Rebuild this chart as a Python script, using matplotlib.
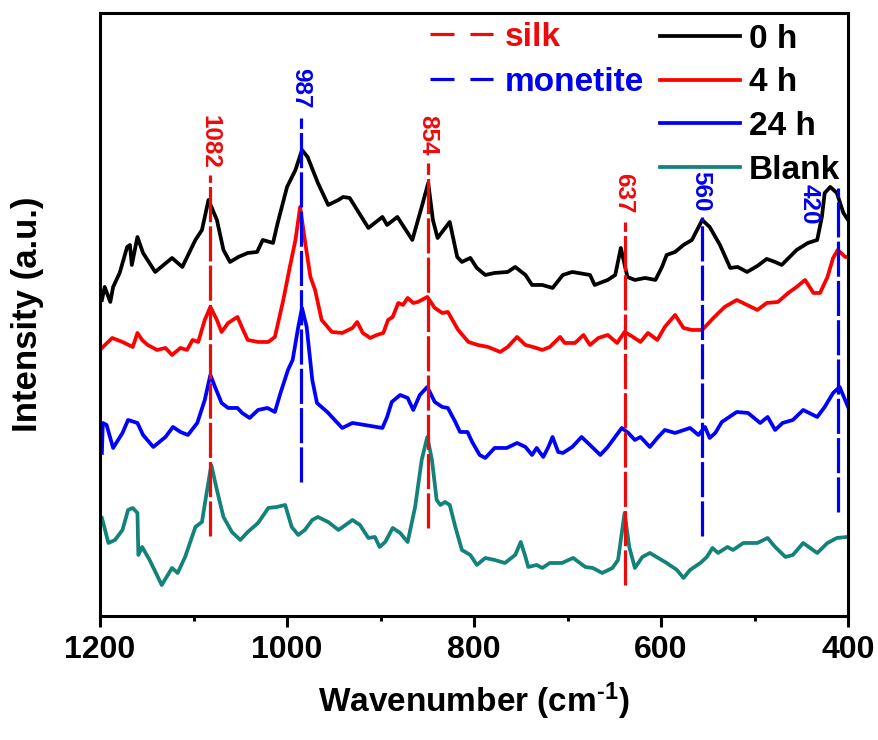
import matplotlib
matplotlib.use("Agg")
import matplotlib.pyplot as plt
from matplotlib.lines import Line2D

plt.rcParams['font.family'] = ['Liberation Sans', 'DejaVu Sans']
plt.rcParams['font.weight'] = 'bold'
plt.rcParams['mathtext.fontset'] = 'custom'
plt.rcParams['mathtext.rm'] = 'Liberation Sans:bold'
plt.rcParams['mathtext.bf'] = 'Liberation Sans:bold'
plt.rcParams['mathtext.default'] = 'bf'

# Raman spectra (wavenumber in cm-1, intensity in a.u., already offset)
wn_0h = [1198, 1195, 1189, 1186, 1179, 1171, 1168, 1166, 1160, 1154, 1141, 1123, 1112, 1098,
         1091, 1084, 1075, 1068, 1061, 1052, 1042, 1032, 1026, 1015, 1010, 1000, 991, 984,
         978, 967, 956, 945, 940, 933, 913, 898, 893, 882, 866, 856, 849, 844, 839, 826,
         818, 813, 804, 797, 788, 778, 764, 756, 745, 738, 727, 716, 705, 695, 676, 671,
         657, 649, 643, 636, 628, 617, 606, 599, 594, 585, 576, 567, 556, 548, 537, 526,
         518, 508, 497, 487, 478, 471, 455, 443, 433, 428, 425, 419, 412, 405, 400]
int_0h = [316, 329, 314, 329, 343, 369, 371, 351, 379, 363, 344, 358, 349, 376,
          386, 416, 396, 366, 354, 359, 363, 364, 376, 373, 393, 429, 446, 466,
          459, 433, 411, 416, 419, 418, 388, 399, 391, 399, 376, 409, 433, 396, 378, 394,
          359, 354, 358, 348, 341, 343, 344, 349, 341, 331, 331, 328, 341, 344, 341, 331,
          336, 341, 368, 339, 336, 338, 336, 349, 361, 364, 371, 376, 396, 389, 371, 348,
          349, 344, 350, 357, 354, 351, 366, 373, 376, 399, 423, 429, 423, 403, 396]

wn_4h = [1198, 1187, 1176, 1165, 1160, 1155, 1149, 1139, 1130, 1123, 1114, 1107, 1101, 1095,
         1088, 1082, 1075, 1070, 1063, 1053, 1047, 1042, 1031, 1020, 1013, 1004, 997, 991,
         986, 981, 975, 970, 963, 952, 941, 930, 925, 919, 911, 904, 897, 892, 887, 881,
         876, 871, 865, 860, 850, 842, 834, 828, 817, 806, 796, 785, 772, 764, 754, 745,
         737, 727, 719, 708, 703, 692, 683, 676, 667, 657, 647, 639, 630, 622, 614, 604,
         596, 585, 576, 567, 556, 544, 532, 519, 508, 497, 487, 475, 464, 455, 446, 437,
         430, 422, 416, 411, 403, 400]
int_4h = [268, 278, 274, 269, 283, 276, 271, 266, 268, 261, 268, 266, 276, 274,
          296, 309, 296, 284, 293, 299, 286, 276, 274, 274, 279, 316, 349, 376,
          409, 376, 339, 326, 296, 284, 283, 288, 294, 283, 278, 281, 283, 296, 299, 313,
          311, 318, 313, 314, 319, 308, 303, 304, 286, 274, 271, 269, 264, 269, 279, 271,
          269, 266, 269, 279, 273, 273, 281, 271, 278, 281, 273, 284, 279, 274, 283, 276,
          289, 301, 288, 286, 286, 298, 309, 316, 311, 306, 313, 314, 323, 329, 336, 323,
          323, 339, 358, 366, 359, 359]

wn_24h = [1198, 1197, 1193, 1186, 1176, 1170, 1160, 1154, 1143, 1130, 1122, 1114, 1106, 1096,
          1088, 1082, 1077, 1070, 1063, 1053, 1048, 1040, 1031, 1021, 1013, 1007, 999, 994,
          988, 984, 979, 973, 968, 957, 949, 941, 930, 917, 898, 893, 888, 879, 871, 865,
          858, 850, 842, 834, 828, 820, 815, 807, 802, 794, 788, 778, 765, 754, 745, 738,
          733, 726, 721, 716, 710, 705, 695, 685, 676, 665, 657, 642, 635, 628, 622, 612,
          604, 596, 585, 569, 560, 553, 548, 542, 535, 519, 507, 494, 486, 478, 470, 459,
          448, 433, 425, 416, 409, 400]
int_24h = [163, 193, 191, 168, 183, 196, 193, 181, 169, 179, 189, 184, 181, 193,
           216, 241, 229, 213, 208, 208, 203, 198, 206, 208, 204, 223, 246, 256,
           289, 308, 289, 236, 213, 204, 196, 188, 193, 191, 188, 199, 214, 221, 218, 206,
           221, 229, 214, 209, 208, 194, 184, 184, 174, 161, 158, 168, 168, 173, 169, 161,
           168, 159, 168, 179, 164, 163, 169, 179, 171, 161, 169, 188, 183, 176, 179, 169,
           178, 186, 183, 188, 181, 189, 178, 183, 194, 204, 203, 193, 199, 186, 193, 196,
           206, 199, 209, 223, 229, 209]

wn_blank = [1198, 1191, 1184, 1176, 1170, 1165, 1160, 1159, 1155, 1147, 1134, 1123, 1117, 1109,
            1098, 1091, 1086, 1081, 1075, 1068, 1059, 1050, 1042, 1031, 1020, 1011, 1002, 995,
            988, 981, 973, 967, 956, 945, 930, 922, 913, 906, 901, 895, 887, 879, 871, 863,
            856, 850, 845, 840, 836, 831, 826, 820, 813, 804, 797, 788, 778, 767, 756, 750,
            745, 742, 733, 727, 719, 706, 694, 681, 673, 663, 652, 646, 642, 639, 634, 628,
            620, 612, 603, 594, 583, 576, 569, 558, 551, 545, 539, 529, 523, 512, 497, 486,
            478, 467, 459, 448, 433, 422, 412, 401]
int_blank = [98, 73, 76, 86, 106, 108, 103, 61, 69, 56, 31, 48, 43, 59,
             89, 94, 123, 151, 126, 99, 84, 76, 84, 93, 108, 109, 111, 89,
             81, 86, 96, 99, 94, 86, 96, 91, 78, 79, 69, 74, 88, 83, 74, 109,
             156, 179, 156, 116, 111, 114, 111, 89, 66, 61, 51, 58, 56, 53, 61, 74,
             59, 49, 51, 48, 53, 53, 58, 49, 48, 43, 48, 56, 83, 103, 69, 48,
             59, 63, 58, 53, 46, 38, 46, 53, 59, 68, 63, 69, 66, 73, 73, 78,
             69, 59, 61, 73, 63, 73, 78, 79]

series = [
    ('0 h', wn_0h, int_0h, '#000000'),
    ('4 h', wn_4h, int_4h, '#ff0000'),
    ('24 h', wn_24h, int_24h, '#0000ff'),
    ('Blank', wn_blank, int_blank, '#12827a'),
]

# assigned bands (vertical dashed markers)
peak_pos = [1082, 985, 849, 639, 556, 411]
peak_text = ['1082', '987', '854', '637', '560', '420']
peak_kind = ['silk', 'monetite', 'silk', 'silk', 'monetite', 'monetite']
peak_lo = [80, 134, 88, 31, 80, 104]
peak_hi = [441, 498, 453, 394, 399, 428]
label_x = [1082, 985, 849, 640, 557, 442]
label_y = [474, 528, 481, 423, 425, 412]
kind_color = {'silk': '#ee0a0a', 'monetite': '#0000f0'}

fig = plt.figure(figsize=(8.79, 7.40), dpi=100)
ax = fig.add_axes([0.1138, 0.1676, 0.851, 0.8149])

for name, wn, inten, col in series:
    ax.plot(wn, inten, color=col, linewidth=2.7, label=name, zorder=2,
            solid_joinstyle='round')

for x, lo, hi, kind in zip(peak_pos, peak_lo, peak_hi, peak_kind):
    ax.plot([x, x], [lo, hi], color=kind_color[kind], linewidth=2.3,
            linestyle=(0, (11, 1.3)), zorder=3)

for tx, ty, txt, kind in zip(label_x, label_y, peak_text, peak_kind):
    ax.text(tx, ty, txt, rotation=270, ha='center', va='center',
            fontsize=17.5, fontweight='bold', color=kind_color[kind], zorder=4)

ax.set_xlim(1200, 400)
ax.set_ylim(0, 603)
ax.set_xticks([1200, 1000, 800, 600, 400])
ax.set_xticks([1100, 900, 700, 500], minor=True)
ax.set_yticks([])
ax.tick_params(axis='x', which='major', length=8, width=2.2, pad=6,
               labelsize=23, direction='out')
ax.tick_params(axis='x', which='minor', length=3.5, width=2.2, direction='out')
for lab in ax.get_xticklabels():
    lab.set_fontweight('bold')
for spine in ax.spines.values():
    spine.set_linewidth(2.2)

ax.set_xlabel(r'Wavenumber (cm$^{\text{-}1}$)', fontsize=24, fontweight='bold', labelpad=11)
ax.set_ylabel('Intensity (a.u.)', fontsize=25, fontweight='bold', labelpad=40)

# legend for the spectra
leg1 = ax.legend(loc='upper left', bbox_to_anchor=(0.749, 0.982), frameon=False,
                 fontsize=24, handlelength=2.4, handletextpad=0.25,
                 labelspacing=0.38, borderpad=0, borderaxespad=0)
for t in leg1.get_texts():
    t.set_fontweight('bold')
ax.add_artist(leg1)

# legend for the band assignments
kinds = ['silk', 'monetite']
proxies = [Line2D([], [], color=kind_color[k], linewidth=2.3, linestyle=(0, (7.5, 5)))
           for k in kinds]
leg2 = ax.legend(proxies, kinds, loc='upper left', bbox_to_anchor=(0.441, 0.985),
                 frameon=False, fontsize=24, handlelength=1.9, handletextpad=0.36,
                 labelspacing=0.42, borderpad=0, borderaxespad=0)
for t, k in zip(leg2.get_texts(), kinds):
    t.set_color(kind_color[k])
    t.set_fontweight('bold')

fig.savefig('out.png', dpi=100, facecolor='white')
